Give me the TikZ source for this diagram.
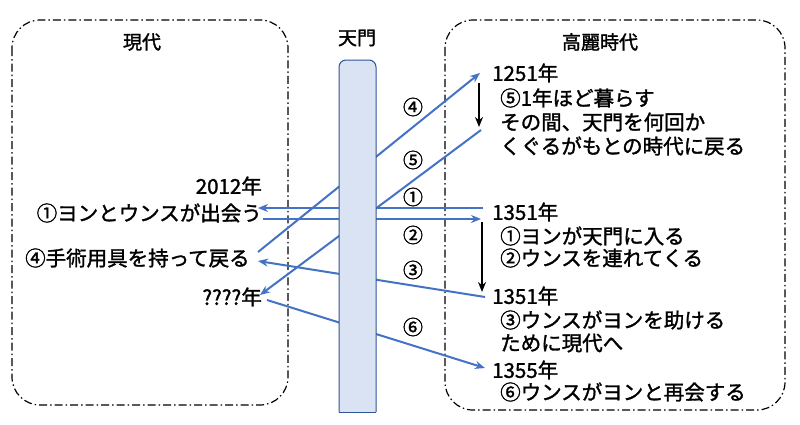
\documentclass[tikz,border=0pt]{standalone}
\usepackage{fontspec}
\setmainfont{Noto Sans CJK JP}[FakeBold=1.5]
\usetikzlibrary{arrows.meta}
\definecolor{ln}{RGB}{68,114,196}
\definecolor{pf}{RGB}{218,227,243}
\definecolor{pb}{RGB}{47,85,151}
\begin{document}
\begin{tikzpicture}[x=1pt,y=-1pt,
  bl/.style={ln,line width=2pt,-{Stealth[length=10pt,width=8pt]}},
  kk/.style={black,line width=1.8pt,-{Stealth[length=10pt,width=8pt]}},
  box/.style={draw,dash pattern=on 8pt off 3pt on 1.5pt off 3pt,line width=1.2pt,rounded corners=28pt},
  tx/.style={font=\fontsize{20.5}{24}\selectfont,inner sep=0pt,anchor=west},
  tr/.style={font=\fontsize{20.5}{24}\selectfont,inner sep=0pt,anchor=east},
  hd/.style={font=\fontsize{19}{22}\selectfont,inner sep=0pt},
  cn/.style={font=\fontsize{20}{22}\selectfont,inner sep=0pt}]
\useasboundingbox (0,0) rectangle (800,424);
\fill[white] (0,0) rectangle (800,424);
\draw[box] (12,20) rectangle (288,405);
\draw[box] (445,20) rectangle (785,410);
\node[hd] (h1) at (142,42) {現代};
\node[hd] (h2) at (357,38) {天門};
\node[hd] (h3) at (600,42) {高麗時代};
\coordinate (a4s) at (258,252); \coordinate (a4e) at (480,73);
\coordinate (a5s) at (481,130); \coordinate (a5e) at (260,295);
\coordinate (a1s) at (483,208); \coordinate (a1e) at (258,208);
\coordinate (a2s) at (263,219); \coordinate (a2e) at (481,219);
\coordinate (a3s) at (485,297); \coordinate (a3e) at (258,261);
\coordinate (a6s) at (267,300); \coordinate (a6e) at (485,368);
\draw[bl] (a4s) -- (a4e);
\draw[bl] (a5s) -- (a5e);
\draw[bl] (a1s) -- (a1e);
\draw[bl] (a2s) -- (a2e);
\draw[bl] (a3s) -- (a3e);
\draw[bl] (a6s) -- (a6e);
\coordinate (k1s) at (479,83); \coordinate (k1e) at (479,127);
\coordinate (k2s) at (482,222); \coordinate (k2e) at (482,292);
\draw[kk] (k1s) -- (k1e);
\draw[kk] (k2s) -- (k2e);
\draw[pb,fill=pf,line width=1pt,rounded corners=7pt] (339,412) -- (339,60) -- (376,60) -- (376,412);
\draw[pb,fill=pf,line width=1pt] (339,412) -- (376,412);
\node[cn] (c4) at (413,107) {④};
\node[cn] (c5) at (413,160) {⑤};
\node[cn] (c1) at (413,197) {①};
\node[cn] (c2) at (413,235) {②};
\node[cn] (c3) at (413,270) {③};
\node[cn] (c6) at (413,327) {⑥};
\node[tr] (l1) at (262,186) {2012年};
\node[tr] (l2) at (262,213) {①ヨンとウンスが出会う};
\node[tx] (l3) at (25,258) {④手術用具を持って戻る};
\node[tr] (l4) at (262,297) {????年};
\node[tx] (r1) at (492,73) {1251年};
\node[tx] (r2) at (500,98) {⑤1年ほど暮らす};
\node[tx] (r3) at (500,122) {その間、天門を何回か};
\node[tx] (r4) at (500,146) {くぐるがもとの時代に戻る};
\node[tx] (r5) at (492,212) {1351年};
\node[tx] (r6) at (500,236) {①ヨンが天門に入る};
\node[tx] (r7) at (500,258) {②ウンスを連れてくる};
\node[tx] (r8) at (492,296) {1351年};
\node[tx] (r9) at (500,320) {③ウンスがヨンを助ける};
\node[tx] (r10) at (500,343) {ために現代へ};
\node[tx] (r11) at (492,370) {1355年};
\node[tx] (r12) at (500,392) {⑥ウンスがヨンと再会する};
\end{tikzpicture}
\end{document}
